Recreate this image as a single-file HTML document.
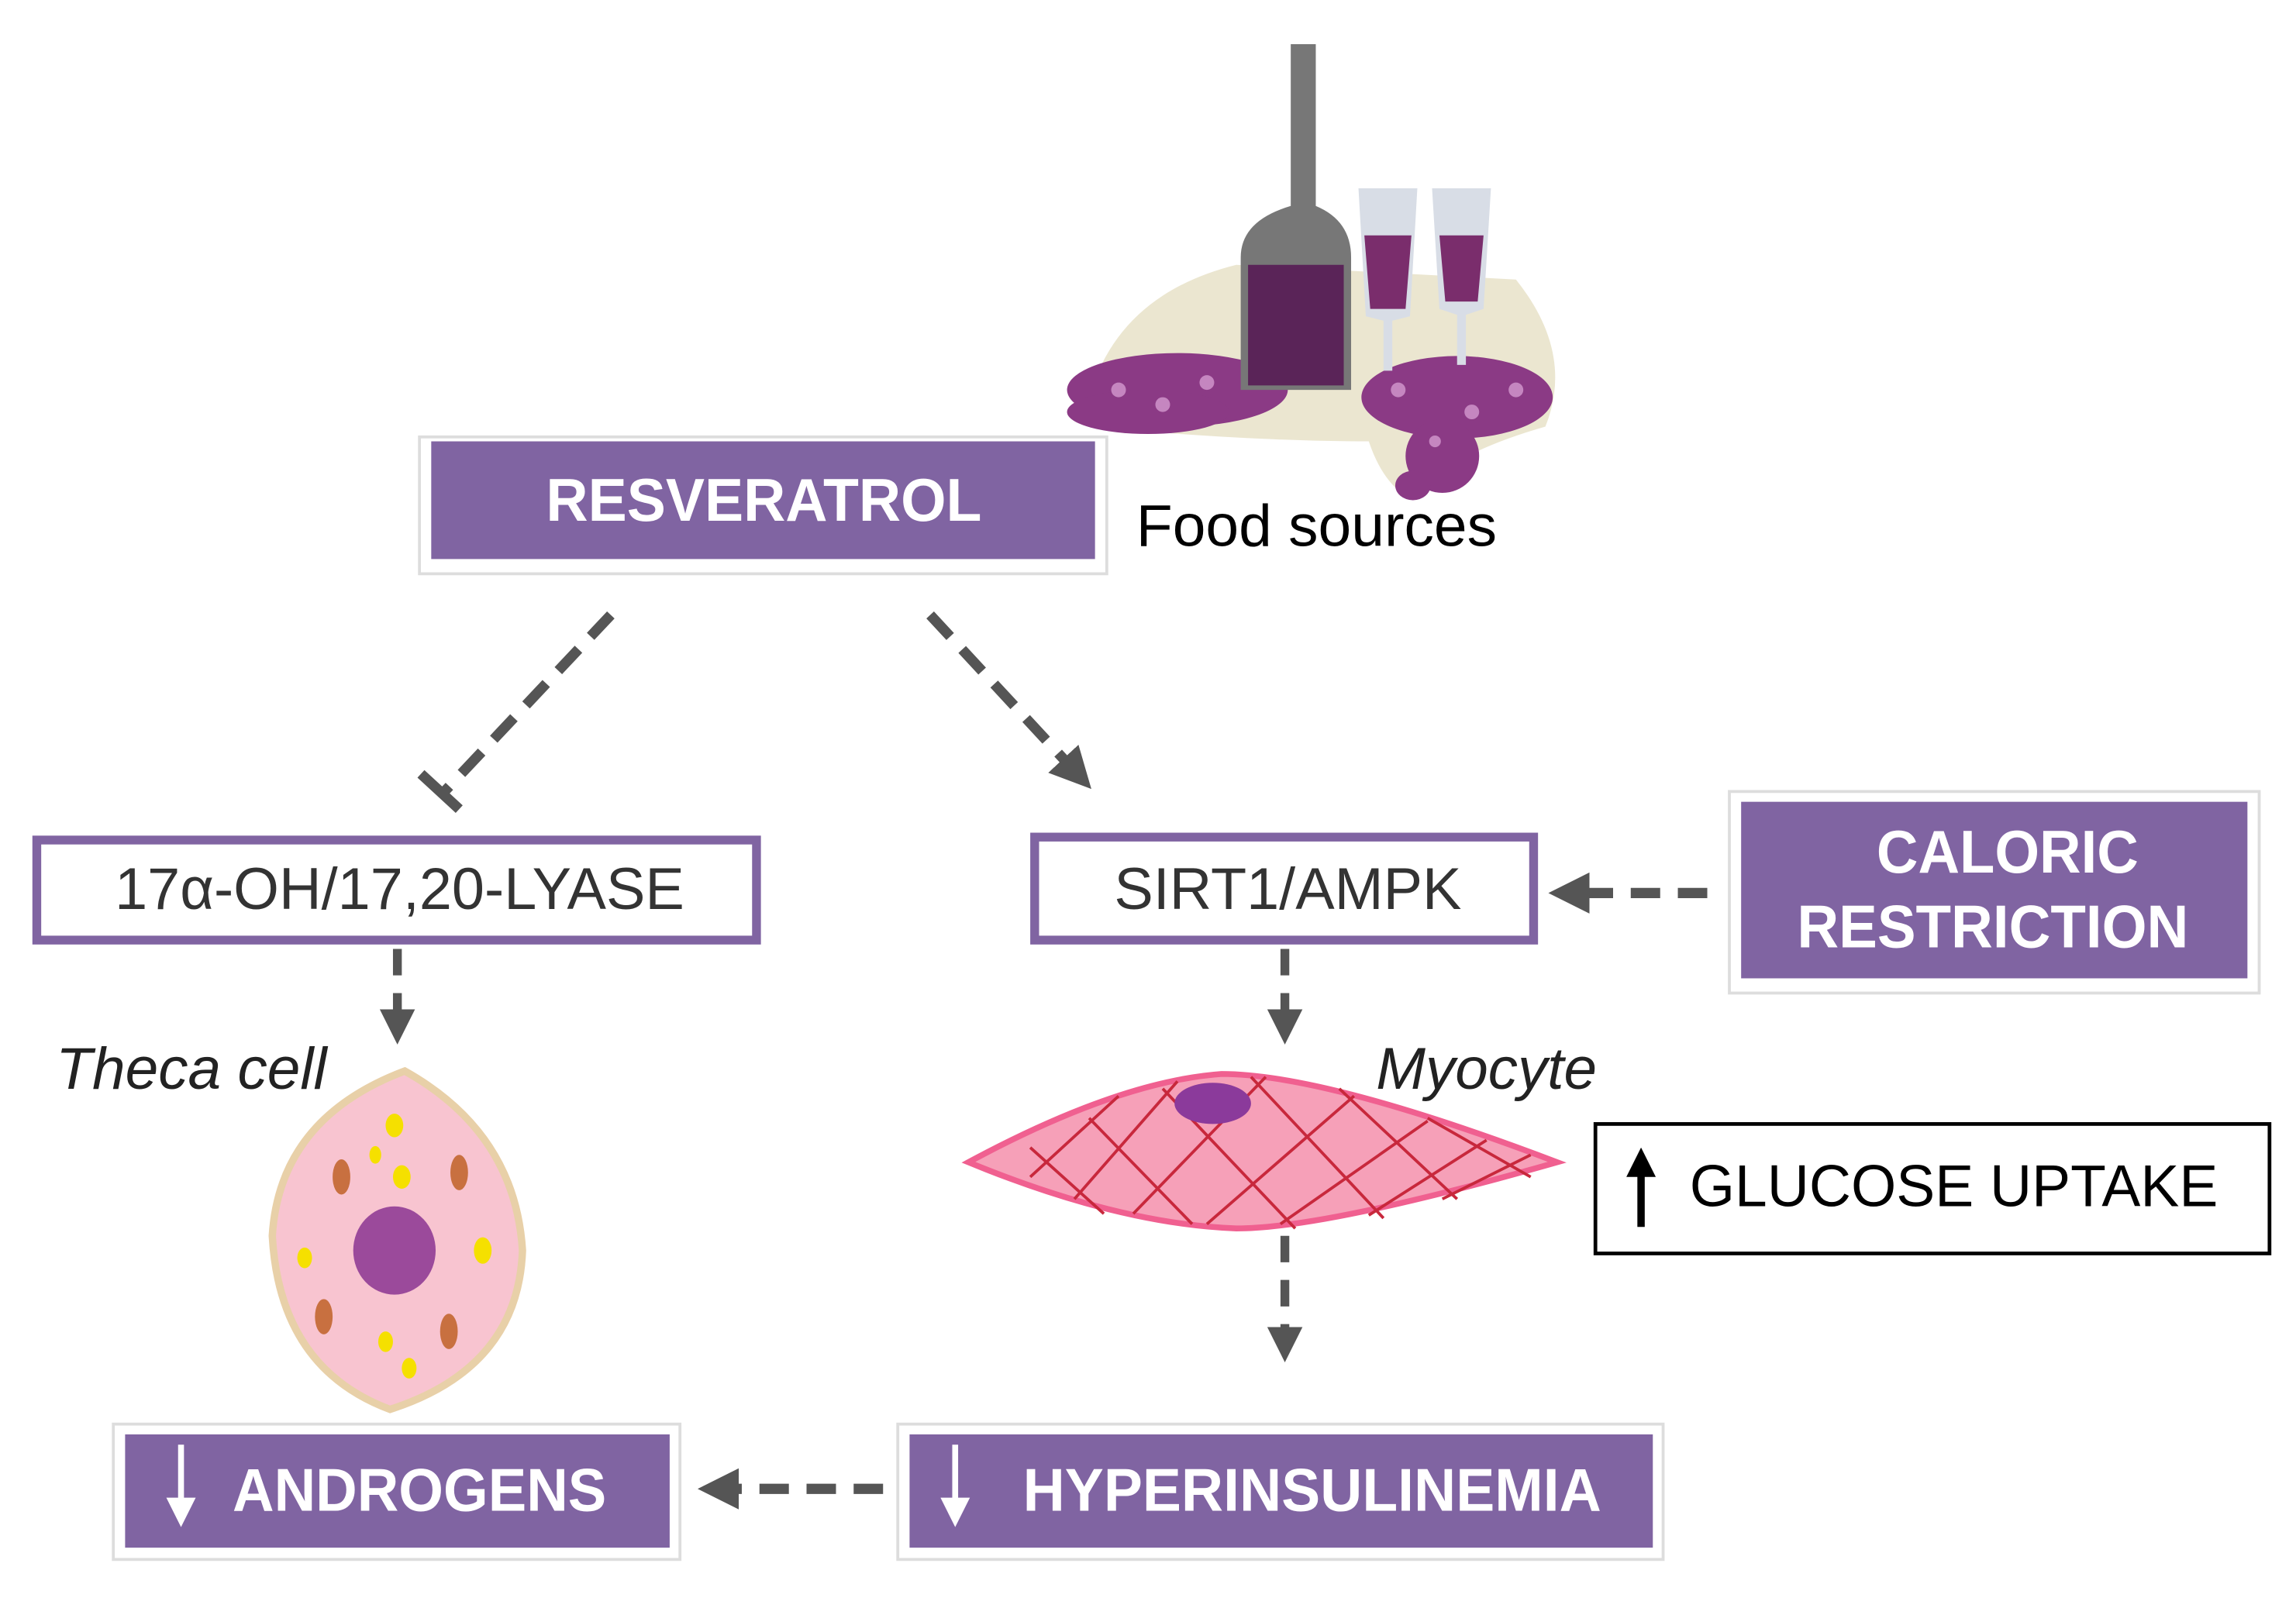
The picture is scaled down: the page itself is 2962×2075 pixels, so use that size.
<!DOCTYPE html>
<html><head><style>html,body{margin:0;padding:0;background:#fff}svg{display:block}</style></head><body>
<svg width="2962" height="2075" viewBox="0 0 1560 1093" preserveAspectRatio="none" xmlns="http://www.w3.org/2000/svg" font-family="Liberation Sans, sans-serif">
<defs>
<marker id="ah" markerWidth="4" markerHeight="4" refX="2" refY="2" orient="auto" markerUnits="strokeWidth"><path d="M0,0 L4,2 L0,4 Z" fill="#555"/></marker>
<marker id="ahb" markerWidth="4" markerHeight="4" refX="2" refY="2" orient="auto" markerUnits="strokeWidth"><path d="M0,0 L4,2 L0,4 Z" fill="#000"/></marker>
<marker id="ahw" markerWidth="5" markerHeight="5" refX="2.5" refY="2.5" orient="auto" markerUnits="strokeWidth"><path d="M0,0 L5,2.5 L0,5 Z" fill="#fff"/></marker>
</defs>
<!-- wine -->
<path d="M740,270 Q760,200 840,180 L1030,190 Q1070,240 1050,290 Q980,310 960,340 Q940,330 930,300 Q850,300 740,290 Z" fill="#e6e0c4" opacity="0.8"/>
<g fill="#8b3a85">
<ellipse cx="800" cy="265" rx="75" ry="25"/><ellipse cx="780" cy="280" rx="55" ry="15"/>
<ellipse cx="990" cy="270" rx="65" ry="28"/><ellipse cx="980" cy="310" rx="25" ry="25"/>
<ellipse cx="960" cy="330" rx="12" ry="10"/>
</g>
<g fill="#c586c0"><circle cx="760" cy="265" r="5"/><circle cx="790" cy="275" r="5"/><circle cx="820" cy="260" r="5"/><circle cx="950" cy="265" r="5"/><circle cx="1000" cy="280" r="5"/><circle cx="1030" cy="265" r="5"/><circle cx="975" cy="300" r="4"/></g>
<path d="M877,30 L894,30 L894,140 Q918,150 918,175 L918,265 L843,265 L843,175 Q843,150 877,140 Z" fill="#777"/>
<path d="M848,180 L913,180 L913,262 L848,262 Z" fill="#5a2458"/>
<path d="M923,128 L963,128 L958,215 L946,218 L946,252 L940,252 L940,218 L928,215 Z" fill="#d8dde6"/>
<path d="M927,160 L959,160 L955,210 L931,210 Z" fill="#7a2d6c"/>
<path d="M973,128 L1013,128 L1008,210 L996,214 L996,248 L990,248 L990,214 L978,210 Z" fill="#d8dde6"/>
<path d="M978,160 L1008,160 L1004,205 L982,205 Z" fill="#7a2d6c"/>
<!-- RESVERATROL -->
<rect x="285" y="297" width="467" height="93" fill="#fff" stroke="#ddd" stroke-width="2"/>
<rect x="293" y="300" width="451" height="80" fill="#8064a2"/>
<text x="371" y="354" font-size="41" font-weight="bold" fill="#fff" textLength="296" lengthAdjust="spacingAndGlyphs">RESVERATROL</text>
<text x="772" y="371" font-size="40" fill="#000" textLength="245" lengthAdjust="spacingAndGlyphs">Food sources</text>
<!-- diagonal connectors -->
<line x1="415" y1="418" x2="302" y2="538" stroke="#555" stroke-width="7" stroke-dasharray="20,12"/>
<line x1="286" y1="526" x2="312" y2="550" stroke="#555" stroke-width="7"/>
<line x1="632" y1="418" x2="732" y2="526" stroke="#555" stroke-width="7" stroke-dasharray="20,12" marker-end="url(#ah)"/>
<!-- 17a box -->
<rect x="25" y="571" width="489" height="68" fill="#fff" stroke="#8064a2" stroke-width="6"/>
<text x="78" y="618" font-size="40" fill="#333" textLength="387" lengthAdjust="spacingAndGlyphs">17α-OH/17,20-LYASE</text>
<!-- SIRT1 -->
<rect x="703" y="569" width="339" height="70" fill="#fff" stroke="#8064a2" stroke-width="6"/>
<text x="757" y="618" font-size="40" fill="#333" textLength="236" lengthAdjust="spacingAndGlyphs">SIRT1/AMPK</text>
<!-- CALORIC -->
<rect x="1175" y="538" width="360" height="137" fill="#fff" stroke="#ddd" stroke-width="2"/>
<rect x="1183" y="545" width="344" height="120" fill="#8064a2"/>
<text x="1275" y="593" font-size="41" font-weight="bold" fill="#fff" textLength="178" lengthAdjust="spacingAndGlyphs">CALORIC</text>
<text x="1221" y="644" font-size="41" font-weight="bold" fill="#fff" textLength="266" lengthAdjust="spacingAndGlyphs">RESTRICTION</text>
<line x1="1160" y1="607" x2="1066" y2="607" stroke="#555" stroke-width="7" stroke-dasharray="20,12" marker-end="url(#ah)"/>
<!-- verticals -->
<line x1="270" y1="645" x2="270" y2="698" stroke="#555" stroke-width="6" stroke-dasharray="18,12" marker-end="url(#ah)"/>
<line x1="873" y1="645" x2="873" y2="698" stroke="#555" stroke-width="6" stroke-dasharray="18,12" marker-end="url(#ah)"/>
<!-- theca -->
<text x="38" y="740" font-size="40" font-style="italic" fill="#222" textLength="184" lengthAdjust="spacingAndGlyphs">Theca cell</text>
<path d="M275,728 Q350,770 355,850 Q352,930 265,958 Q190,930 185,840 Q190,760 275,728 Z" fill="#f8c4d0" stroke="#e8d0a8" stroke-width="5"/>
<ellipse cx="268" cy="850" rx="28" ry="30" fill="#9b4a9b"/>
<g fill="#f5e000"><ellipse cx="268" cy="765" rx="6" ry="8"/><ellipse cx="273" cy="800" rx="6" ry="8"/><ellipse cx="207" cy="855" rx="5" ry="7"/><ellipse cx="328" cy="850" rx="6" ry="9"/><ellipse cx="262" cy="912" rx="5" ry="7"/><ellipse cx="278" cy="930" rx="5" ry="7"/><ellipse cx="255" cy="785" rx="4" ry="6"/></g>
<g fill="#c87040"><ellipse cx="232" cy="800" rx="6" ry="12"/><ellipse cx="312" cy="797" rx="6" ry="12"/><ellipse cx="220" cy="895" rx="6" ry="12"/><ellipse cx="305" cy="905" rx="6" ry="12"/></g>
<!-- myocyte -->
<text x="935" y="740" font-size="40" font-style="italic" fill="#222" textLength="150" lengthAdjust="spacingAndGlyphs">Myocyte</text>
<path d="M658,790 Q760,735 830,730 Q900,730 1058,790 Q900,835 840,835 Q760,832 658,790 Z" fill="#f6a0b8" stroke="#f06090" stroke-width="4"/>
<g stroke="#c8283c" stroke-width="2" fill="none">
<path d="M700,800 L760,745 M730,815 L800,735 M770,825 L860,732 M820,832 L920,745 M870,832 L970,762 M930,826 L1010,775 M980,815 L1040,785"/>
<path d="M700,780 L750,825 M740,760 L810,832 M790,740 L880,835 M850,732 L940,828 M910,740 L990,815 M970,760 L1040,800"/>
</g>
<ellipse cx="824" cy="750" rx="26" ry="14" fill="#8b3a9b"/>
<line x1="873" y1="840" x2="873" y2="914" stroke="#555" stroke-width="6" stroke-dasharray="18,12" marker-end="url(#ah)"/>
<!-- glucose -->
<rect x="1084" y="764" width="458" height="88" fill="#fff" stroke="#000" stroke-width="2.5"/>
<line x1="1115" y1="834" x2="1115" y2="790" stroke="#000" stroke-width="5" marker-end="url(#ahb)"/>
<text x="1148" y="820" font-size="40" fill="#000" textLength="359" lengthAdjust="spacingAndGlyphs">GLUCOSE  UPTAKE</text>
<!-- androgens -->
<rect x="77" y="968" width="385" height="92" fill="#fff" stroke="#ddd" stroke-width="2"/>
<rect x="85" y="975" width="370" height="77" fill="#8064a2"/>
<line x1="123" y1="982" x2="123" y2="1028" stroke="#fff" stroke-width="4" marker-end="url(#ahw)"/>
<text x="158" y="1027" font-size="41" font-weight="bold" fill="#fff" textLength="254" lengthAdjust="spacingAndGlyphs">ANDROGENS</text>
<!-- hyperinsulinemia -->
<rect x="610" y="968" width="520" height="92" fill="#fff" stroke="#ddd" stroke-width="2"/>
<rect x="618" y="975" width="505" height="77" fill="#8064a2"/>
<line x1="649" y1="982" x2="649" y2="1028" stroke="#fff" stroke-width="4" marker-end="url(#ahw)"/>
<text x="695" y="1027" font-size="41" font-weight="bold" fill="#fff" textLength="393" lengthAdjust="spacingAndGlyphs">HYPERINSULINEMIA</text>
<line x1="600" y1="1012" x2="488" y2="1012" stroke="#555" stroke-width="7" stroke-dasharray="20,12" marker-end="url(#ah)"/>
</svg>
</body></html>
